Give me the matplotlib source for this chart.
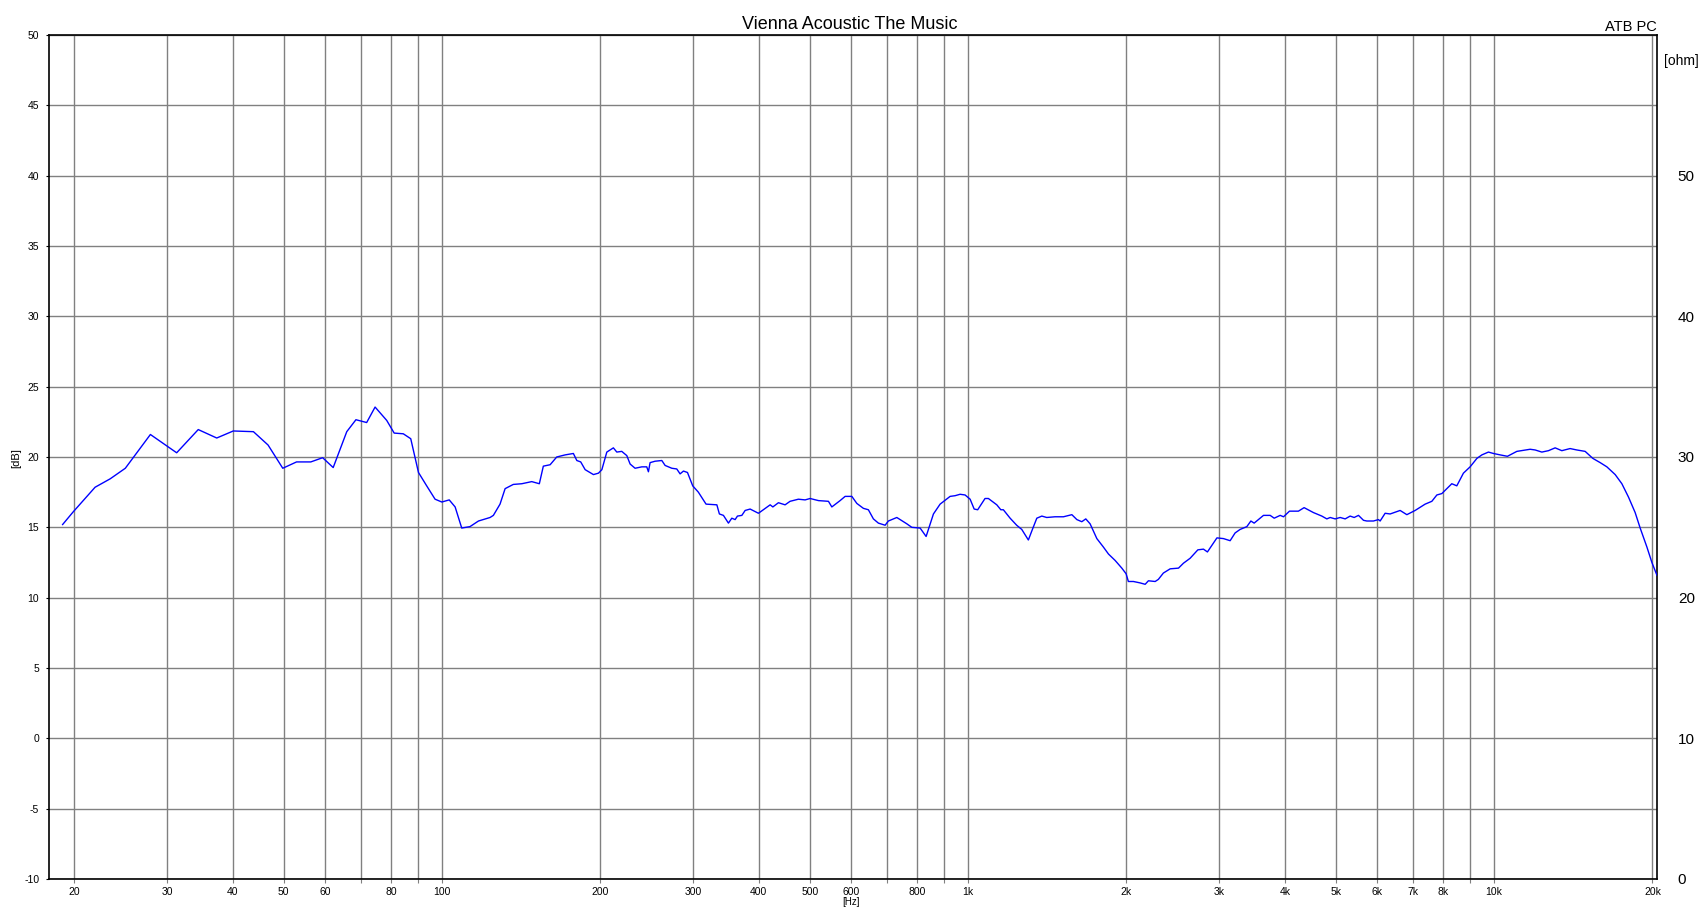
import numpy as np
import matplotlib
matplotlib.use("Agg")
import matplotlib.pyplot as plt
from matplotlib.ticker import FixedLocator, FixedFormatter, NullLocator

plt.rcParams['font.family'] = ['Liberation Sans', 'DejaVu Sans']
plt.rcParams['axes.unicode_minus'] = False

# frequency response: Hz, dB
freq = [19.0, 19.9, 21.9, 23.4, 25.0, 27.9, 31.3, 34.4, 37.3, 40.1, 43.8, 46.7,
        49.8, 52.9, 56.3, 59.3, 62.1, 65.9, 68.6, 71.9, 74.6, 78.5, 81.1, 84.4,
        87.2, 90.2, 93.5, 97.0, 99.9, 103.2, 105.9, 109.0, 113.0, 117.3, 123.4,
        125.2, 128.9, 131.8, 136.6, 141.8, 148.1, 153.1, 155.8, 160.5, 165.2,
        171.4, 177.7, 180.4, 183.5, 187.1, 194.0, 198.3, 201.3, 205.7, 211.7,
        214.9, 219.6, 224.5, 227.8, 232.8, 239.8, 245.0, 246.8, 248.6, 254.1,
        261.7, 265.5, 273.4, 279.4, 283.5, 287.7, 292.8, 299.6, 307.1, 317.6,
        333.0, 336.7, 342.7, 350.3, 355.5, 360.7, 364.4, 371.5, 376.9, 385.2,
        399.5, 420.5, 425.5, 436.0, 448.9, 458.8, 475.8, 490.0, 500.9, 519.5,
        542.7, 550.8, 571.1, 583.8, 601.2, 614.5, 632.4, 646.4, 660.7, 675.3,
        695.5, 705.6, 732.0, 764.8, 781.7, 810.6, 832.2, 859.3, 884.8, 924.4,
        944.9, 965.6, 987.0, 1009, 1027, 1043, 1077, 1093, 1134, 1154, 1167,
        1202, 1237, 1265, 1302, 1322, 1351, 1381, 1411, 1463, 1518, 1575, 1610,
        1645, 1674, 1706, 1757, 1808, 1849, 1903, 1960, 1997, 2017, 2062, 2123,
        2171, 2202, 2268, 2300, 2351, 2422, 2512, 2567, 2643, 2734, 2802, 2851,
        2972, 3058, 3149, 3218, 3289, 3388, 3448, 3498, 3644, 3752, 3819, 3920,
        3978, 4083, 4246, 4353, 4534, 4704, 4808, 4879, 4987, 5097, 5210, 5325,
        5419, 5523, 5645, 5728, 5897, 6027, 6072, 6206, 6343, 6627, 6825, 7077,
        7394, 7614, 7783, 7955, 8309, 8493, 8742, 9002, 9273, 9478, 9754, 9971,
        10268, 10600, 11046, 11708, 11967, 12323, 12686, 13062, 13450, 13945,
        14362, 14894, 15406, 15908, 16381, 16988, 17492, 18007, 18540, 18951,
        19518, 19950, 20391]
spl = [15.2, 16.1, 17.85, 18.45, 19.2, 21.6, 20.3, 21.95, 21.35, 21.85, 21.8, 20.85,
       19.2, 19.65, 19.65, 19.95, 19.25, 21.8, 22.65, 22.45, 23.55, 22.6, 21.7, 21.65,
       21.3, 18.9, 17.95, 17.0, 16.8, 16.95, 16.45, 14.95, 15.05, 15.45, 15.7,
       15.85, 16.65, 17.75, 18.05, 18.1, 18.25, 18.1, 19.35, 19.45, 20.0,
       20.15, 20.25, 19.75, 19.65, 19.1, 18.75, 18.85, 19.1, 20.35, 20.65,
       20.35, 20.4, 20.1, 19.5, 19.2, 19.3, 19.3, 18.95, 19.6, 19.7,
       19.75, 19.4, 19.2, 19.15, 18.8, 19.0, 18.9, 17.95, 17.5, 16.65,
       16.6, 15.95, 15.85, 15.3, 15.65, 15.55, 15.8, 15.85, 16.2, 16.3,
       16.0, 16.6, 16.45, 16.75, 16.6, 16.85, 17.0, 16.95, 17.05, 16.9,
       16.85, 16.45, 16.9, 17.2, 17.2, 16.7, 16.35, 16.25, 15.6, 15.3,
       15.15, 15.45, 15.7, 15.25, 15.0, 14.95, 14.35, 15.95, 16.65, 17.2,
       17.25, 17.35, 17.3, 17.0, 16.3, 16.25, 17.05, 17.05, 16.6, 16.25, 16.25,
       15.65, 15.15, 14.85, 14.1, 14.75, 15.65, 15.8, 15.7, 15.75, 15.75, 15.9, 15.55,
       15.4, 15.6, 15.25, 14.2, 13.6, 13.1, 12.65, 12.1, 11.7, 11.15, 11.15, 11.05,
       10.95, 11.2, 11.15, 11.3, 11.75, 12.05, 12.1, 12.45, 12.8, 13.4, 13.45, 13.25,
       14.25, 14.2, 14.05, 14.6, 14.85, 15.05, 15.45, 15.3, 15.85, 15.85, 15.65, 15.85,
       15.75, 16.15, 16.15, 16.4, 16.05, 15.8, 15.6, 15.7, 15.6, 15.7, 15.6, 15.8,
       15.7, 15.85, 15.5, 15.45, 15.45, 15.55, 15.45, 16.0, 15.95, 16.2, 15.9, 16.2,
       16.65, 16.85, 17.3, 17.4, 18.1, 17.95, 18.85, 19.3, 19.9, 20.15, 20.35, 20.25,
       20.15, 20.05, 20.4, 20.55, 20.5, 20.35, 20.45, 20.65, 20.45, 20.6,
       20.5, 20.4, 19.9, 19.6, 19.3, 18.75, 18.1, 17.15, 16.05, 14.95,
       13.6, 12.5, 11.6]

grid_freqs = [20, 30, 40, 50, 60, 70, 80, 90, 100, 200, 300, 400, 500, 600, 700,
              800, 900, 1000, 2000, 3000, 4000, 5000, 6000, 7000, 8000, 9000,
              10000, 20000]
grid_labels = ['20', '30', '40', '50', '60', '', '80', '', '100', '200', '300',
               '400', '500', '600', '', '800', '', '1k', '2k', '3k', '4k', '5k',
               '6k', '7k', '8k', '', '10k', '20k']
db_ticks = list(range(-10, 55, 5))
ohm_ticks = [0, 10, 20, 30, 40, 50]

W, H = 1702, 919
fig = plt.figure(figsize=(W / 100, H / 100), dpi=100)
ax = fig.add_axes([49 / W, 1 - 879 / H, (1657 - 49) / W, (879 - 35) / H])

ax.semilogx(freq, spl, color='#0000ff', lw=1.0, zorder=3)
ax.set_xlim(17.9, 20400)
ax.set_ylim(-10, 50)

ax.xaxis.set_major_locator(FixedLocator(grid_freqs))
ax.xaxis.set_major_formatter(FixedFormatter(grid_labels))
ax.xaxis.set_minor_locator(NullLocator())
ax.set_yticks(db_ticks)
ax.grid(True, which='major', color='#808080', lw=1.0)
ax.tick_params(axis='x', labelsize=7.5, length=3, color='#808080', pad=3)
ax.tick_params(axis='y', labelsize=7.5, length=2, pad=5)
for s in ax.spines.values():
    s.set_linewidth(1.2)

ax2 = ax.twinx()
ax2.set_ylim(0, 60)
ax2.set_yticks(ohm_ticks)
ax2.tick_params(axis='y', labelsize=11, length=0, pad=15)
for s in ax2.spines.values():
    s.set_visible(False)

fig.text(850 / W, 1 - 29 / H, 'Vienna Acoustic The Music', ha='center',
         va='baseline', fontsize=13)
fig.text(1657 / W, 1 - 31 / H, 'ATB PC', ha='right', va='baseline', fontsize=10.5)
fig.text(1664 / W, 1 - 61 / H, '[ohm]', ha='left', va='center', fontsize=10)
fig.text(16 / W, 1 - 458 / H, '[dB]', rotation=90, ha='center', va='center',
         fontsize=8)
fig.text(851 / W, 1 - 902 / H, '[Hz]', ha='center', va='center', fontsize=7)

fig.savefig('out.png', dpi=100)
